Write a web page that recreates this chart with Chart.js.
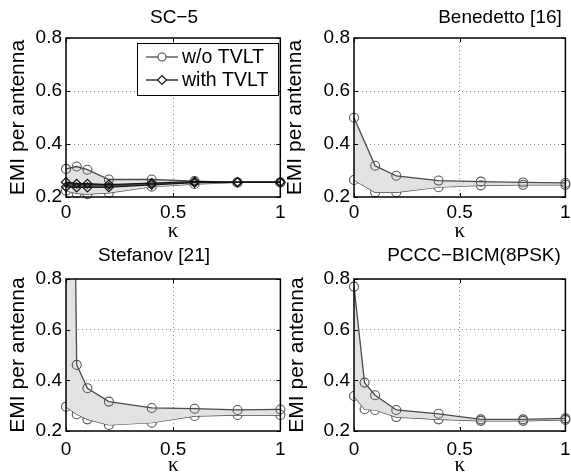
<!DOCTYPE html>
<html>
<head>
<meta charset="utf-8">
<script src="https://cdn.jsdelivr.net/npm/chart.js@4.4.1/dist/chart.umd.min.js"></script>
<style>
  body { margin: 0; background: #fff; }
  #wrap { position: relative; width: 571px; height: 476px; overflow: hidden; }
  canvas { position: absolute; }
</style>
</head>
<body>
<div id="wrap">
  <canvas id="p1"></canvas>
  <canvas id="p2"></canvas>
  <canvas id="p3"></canvas>
  <canvas id="p4"></canvas>
</div>
<script>
// kappa values used on the x axis
const kappa = [0, 0.05, 0.1, 0.2, 0.4, 0.6, 0.8, 1];
const kappaBenedetto = [0, 0.1, 0.2, 0.4, 0.6, 0.8, 1];
const yTicks = [0.2, 0.4, 0.6, 0.8];
const xTicks = [0, 0.5, 1];
const titles = ['SC\u22125', 'Benedetto [16]', 'Stefanov [21]', 'PCCC\u2212BICM(8PSK)'];
const legendLabels = ['w/o TVLT', 'with TVLT'];

// SC-5
const sc5NoHigh   = [0.306, 0.315, 0.303, 0.266, 0.266, 0.260, 0.255, 0.255];
const sc5NoLow    = [0.224, 0.214, 0.211, 0.216, 0.239, 0.249, 0.255, 0.255];
const sc5WithHigh = [0.256, 0.250, 0.250, 0.247, 0.252, 0.258, 0.256, 0.256];
const sc5WithLow  = [0.238, 0.236, 0.236, 0.237, 0.246, 0.254, 0.256, 0.256];
// Benedetto [16]
const benHigh = [0.499, 0.318, 0.280, 0.262, 0.258, 0.255, 0.253];
const benLow  = [0.264, 0.218, 0.218, 0.237, 0.244, 0.246, 0.246];
// Stefanov [21]
const stefHigh = [4.0, 0.461, 0.369, 0.316, 0.291, 0.288, 0.283, 0.285];
const stefLow  = [0.296, 0.266, 0.246, 0.224, 0.233, 0.259, 0.263, 0.263];
// PCCC-BICM(8PSK)
const pcccHigh = [0.770, 0.391, 0.341, 0.283, 0.268, 0.246, 0.246, 0.250];
const pcccLow  = [0.338, 0.286, 0.283, 0.255, 0.246, 0.240, 0.240, 0.244];

const FONT = "'Liberation Sans', Arial, sans-serif";
const LINE = '#4a4a4a';
const FILL = '#e2e2e2';

const pts = (xs, ys) => xs.map((x, i) => ({ x: x, y: ys[i] }));

function circleSet(xs, ys, fill) {
  return {
    data: pts(xs, ys),
    borderColor: LINE,
    borderWidth: 1.3,
    pointStyle: 'circle',
    pointRadius: 4.5,
    pointBorderColor: '#555',
    pointBackgroundColor: 'rgba(0,0,0,0)',
    pointBorderWidth: 1.1,
    backgroundColor: FILL,
    fill: fill ? '+1' : false,
    clip: { left: 8, right: 8, top: 0, bottom: 8 },
    order: 1,
    tension: 0
  };
}

// diamonds go on top of the circle band (lower order is drawn last)
function diamondSet(xs, ys, fill) {
  return {
    data: pts(xs, ys),
    borderColor: '#111',
    borderWidth: 1.3,
    pointStyle: 'rectRot',
    pointRadius: 4.5,
    pointBorderColor: '#111',
    pointBackgroundColor: 'rgba(0,0,0,0)',
    pointBorderWidth: 1.2,
    backgroundColor: 'rgba(40,40,40,0.8)',
    fill: fill ? '+1' : false,
    clip: { left: 8, right: 8, top: 0, bottom: 8 },
    order: 0,
    tension: 0
  };
}

const panels = [
  { id: 'p1', left: 0, top: 0, w: 286, h: 242, area: { l: 66, r: 283, t: 38, b: 197 }, titleX: 174, titleY: 18, yTitlePad: 8, xPad: 4, legend: true,
    datasets: [circleSet(kappa, sc5NoHigh, true), circleSet(kappa, sc5NoLow, false), diamondSet(kappa, sc5WithHigh, true), diamondSet(kappa, sc5WithLow, false)] },
  { id: 'p2', left: 285, top: 0, w: 286, h: 242, area: { l: 69, r: 285, t: 38, b: 197 }, titleX: 215, titleY: 18, yTitlePad: 0, xPad: 4, legend: false,
    datasets: [circleSet(kappaBenedetto, benHigh, true), circleSet(kappaBenedetto, benLow, false)] },
  { id: 'p3', left: 0, top: 236, w: 286, h: 240, area: { l: 66, r: 283, t: 43, b: 195 }, titleX: 154, titleY: 20, yTitlePad: 8, xPad: 7, legend: false,
    datasets: [circleSet(kappa, stefHigh, true), circleSet(kappa, stefLow, false)] },
  { id: 'p4', left: 285, top: 236, w: 286, h: 240, area: { l: 69, r: 285, t: 43, b: 195 }, titleX: 189, titleY: 20, yTitlePad: 1.5, xPad: 7, legend: false,
    datasets: [circleSet(kappa, pcccHigh, true), circleSet(kappa, pcccLow, false)] }
];

// box, inward ticks, title and legend in MATLAB style
const matlabFrame = {
  id: 'matlabFrame',
  afterDraw(chart, args, opts) {
    const { ctx, chartArea: a, scales } = chart;
    ctx.save();
    ctx.strokeStyle = '#000';
    ctx.lineWidth = 1;
    yTicks.forEach(v => {
      const y = Math.round(scales.y.getPixelForValue(v)) + 0.5;
      ctx.beginPath();
      ctx.moveTo(a.left, y); ctx.lineTo(a.left + 4, y);
      ctx.moveTo(a.right, y); ctx.lineTo(a.right - 4, y);
      ctx.stroke();
    });
    xTicks.forEach(v => {
      const x = Math.round(scales.x.getPixelForValue(v)) + 0.5;
      ctx.beginPath();
      ctx.moveTo(x, a.bottom); ctx.lineTo(x, a.bottom - 4);
      ctx.moveTo(x, a.top); ctx.lineTo(x, a.top + 4);
      ctx.stroke();
    });
    ctx.lineWidth = 1.5;
    ctx.strokeRect(a.left, a.top, a.right - a.left, a.bottom - a.top);

    ctx.fillStyle = '#000';
    ctx.font = '19px ' + FONT;
    ctx.textAlign = 'center';
    ctx.textBaseline = 'middle';
    ctx.fillText(opts.title, opts.titleX, opts.titleY);

    if (opts.legend) {
      const bx = 137, by = 43, bw = 141, bh = 52;
      ctx.fillStyle = '#fff';
      ctx.fillRect(bx, by, bw, bh);
      ctx.lineWidth = 1;
      ctx.strokeStyle = '#000';
      ctx.strokeRect(bx + 0.5, by + 0.5, bw, bh);
      const rows = [
        { y: 57, color: LINE, style: 'circle' },
        { y: 80, color: '#111', style: 'rectRot' }
      ];
      rows.forEach((r, i) => {
        ctx.strokeStyle = r.color;
        ctx.lineWidth = 1.3;
        ctx.beginPath();
        ctx.moveTo(146, r.y); ctx.lineTo(178, r.y);
        ctx.stroke();
        ctx.fillStyle = '#fff';
        ctx.lineWidth = 1.1;
        ctx.beginPath();
        if (r.style === 'circle') {
          ctx.arc(162, r.y, 4, 0, Math.PI * 2);
        } else {
          ctx.moveTo(162, r.y - 4.5); ctx.lineTo(166.5, r.y);
          ctx.lineTo(162, r.y + 4.5); ctx.lineTo(157.5, r.y); ctx.closePath();
        }
        ctx.fill();
        ctx.stroke();
        ctx.fillStyle = '#000';
        ctx.font = '19.5px ' + FONT;
        ctx.textAlign = 'left';
        ctx.fillText(legendLabels[i], 182, r.y + 1);
      });
    }
    ctx.restore();
  }
};

panels.forEach((p, idx) => {
  const cv = document.getElementById(p.id);
  cv.width = p.w; cv.height = p.h;
  cv.style.left = p.left + 'px'; cv.style.top = p.top + 'px';
  cv.style.width = p.w + 'px'; cv.style.height = p.h + 'px';

  new Chart(cv.getContext('2d'), {
    type: 'line',
    data: { datasets: p.datasets },
    options: {
      responsive: false,
      animation: false,
      devicePixelRatio: 1,
      layout: { padding: { left: 0, top: p.area.t, right: p.w - p.area.r, bottom: 0 } },
      plugins: {
        legend: { display: false },
        tooltip: { enabled: false },
        filler: { propagate: false },
        matlabFrame: { title: titles[idx], titleX: p.titleX, titleY: p.titleY, legend: p.legend }
      },
      scales: {
        x: {
          type: 'linear',
          min: 0, max: 1,
          afterBuildTicks: s => { s.ticks = xTicks.map(v => ({ value: v })); },
          afterFit: s => { s.height = p.h - p.area.b; s.paddingLeft = 0; s.paddingRight = 0; },
          ticks: {
            padding: p.xPad,
            maxRotation: 0,
            color: '#000',
            font: { family: FONT, size: 19 },
            callback: v => String(v)
          },
          grid: {
            drawTicks: false,
            lineWidth: 1,
            color: c => (c.tick && Math.abs(c.tick.value - 0.5) < 1e-6) ? '#8a8a8a' : 'rgba(0,0,0,0)'
          },
          border: { display: false, dash: [1, 3] },
          title: {
            display: true,
            text: '\u03ba',
            color: '#000',
            font: { family: "'Liberation Serif', serif", size: 21, lineHeight: 1 },
            padding: { top: 0, bottom: 0 }
          }
        },
        y: {
          type: 'linear',
          min: 0.2, max: 0.8,
          afterBuildTicks: s => { s.ticks = yTicks.map(v => ({ value: v })); },
          afterFit: s => { s.width = p.area.l; s.paddingTop = 0; s.paddingBottom = 0; },
          ticks: {
            padding: 4,
            color: '#000',
            font: { family: FONT, size: 19 },
            callback: v => v.toFixed(1)
          },
          grid: {
            drawTicks: false,
            lineWidth: 1,
            color: c => (c.tick && c.tick.value > 0.3 && c.tick.value < 0.7) ? '#8a8a8a' : 'rgba(0,0,0,0)'
          },
          border: { display: false, dash: [1, 3] },
          title: {
            display: true,
            text: 'EMI per antenna',
            color: '#000',
            font: { family: FONT, size: 21, lineHeight: 1 },
            padding: { top: p.yTitlePad, bottom: 0 }
          }
        }
      }
    },
    plugins: [matlabFrame]
  });
});
</script>
</body>
</html>
